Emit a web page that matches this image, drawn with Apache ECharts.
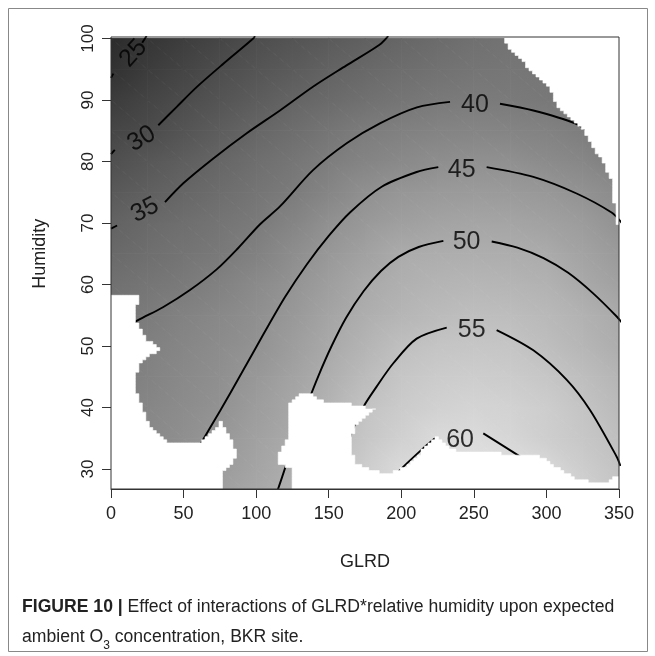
<!DOCTYPE html>
<html><head><meta charset="utf-8">
<script src="https://cdn.jsdelivr.net/npm/echarts@6/dist/echarts.min.js"></script>
<style>html,body{margin:0;padding:0;background:#fff}#c{width:655px;height:656px}</style>
</head><body><div id="c"></div>
<script>
// ---------- data ----------
const glrdSteps = [0,25,50,75,100,125,150,175,200,225,250,275,300,325,350];
const humiditySteps = [100,95,90,85,80,75,70,65,60,55,50,45,40,35,30,25];
// expected O3 at each (humidity row, GLRD column)
const o3Surface = [
  [23.0,25.1,26.8,28.5,30.1,31.5,32.9,34.2,35.4,36.6,37.6,38.2,38.4,38.2,37.8],
  [24.3,26.5,28.3,30.1,31.7,33.1,34.7,35.9,37.0,37.9,38.6,38.9,38.8,38.5,38.0],
  [26.6,28.3,30.0,31.7,33.4,35.1,36.4,37.6,38.6,39.5,39.9,39.8,39.4,38.8,38.0],
  [28.6,29.7,31.7,33.6,35.4,37.0,38.6,40.2,41.1,41.7,42.0,41.9,41.4,40.4,39.2],
  [30.6,32.3,33.9,35.6,37.2,38.7,40.3,41.8,43.0,43.9,44.5,44.5,43.4,42.4,40.5],
  [32.7,34.1,35.5,37.0,38.5,40.0,42.1,44.3,45.7,46.4,46.7,46.6,46.0,44.8,43.3],
  [34.7,36.1,37.3,38.5,39.7,41.8,44.4,46.2,47.6,48.5,48.9,48.8,48.1,46.9,44.9],
  [36.2,37.3,38.4,39.5,41.2,43.7,46.0,48.1,50.1,50.5,50.7,50.6,50.1,48.4,46.6],
  [37.7,38.7,39.7,41.3,43.2,45.1,47.4,49.7,51.1,52.0,52.4,52.2,51.5,49.8,48.0],
  [38.6,40.0,41.4,42.8,44.2,46.1,48.6,50.7,52.3,53.5,54.2,54.0,53.0,51.5,49.9],
  [39.5,41.0,42.2,43.6,44.9,47.2,49.6,52.0,54.4,55.5,55.8,55.6,54.2,52.5,50.6],
  [40.1,41.5,42.9,44.2,46.0,48.3,50.8,53.6,55.8,56.9,57.3,57.0,55.9,54.2,52.2],
  [40.8,42.2,43.5,44.9,47.0,49.2,52.0,55.1,56.9,58.1,58.7,58.4,57.3,55.4,53.4],
  [41.5,42.8,44.2,45.9,47.9,49.9,53.0,55.8,58.0,60.1,60.3,59.2,57.6,56.0,54.4],
  [41.8,43.3,45.0,46.8,48.6,50.7,54.3,57.2,60.0,61.0,61.5,61.1,59.8,57.4,55.2],
  [42.1,43.7,45.6,47.9,49.6,51.7,55.4,58.3,61.2,62.3,62.6,62.3,61.1,58.6,56.0]
];
const xTickValues = [0,50,100,150,200,250,300,350];
const yTickValues = [30,40,50,60,70,80,90,100];
const humidityRange = [26.75, 100.25];

// contour lines: each an array of segments (gaps where the labels sit)
const contour25 = [[[0,93.6],[1.6,94.3]], [[21.5,99.3],[24.5,100.4]]];
const contour30 = [[[0,81.2],[2.6,81.9]], [[32.6,85.9],[45.3,88.9],[59,92.1],[77.4,95.9],[98,100],[99.2,100.4]]];
const contour35 = [[[0,69.1],[4.2,69.6]], [[37.2,73.4],[50,76.5],[70.5,80.5],[93.5,84.6],[116.4,88.3],[139.4,92.2],[162,95.6],[185,99.0],[191,100.4]]];
const contour40 = [[[12,53.2],[18.6,54.2],[35.8,56.3],[54.4,59.1],[73,62.5],[87.5,65.9],[102.7,69.8],[116.4,72.7],[139.2,78.6],[162.6,83],[185.3,86.2],[210.8,88.8],[233.6,89.7]],
                   [[268,89.4],[291,88.3],[319.7,86.2],[332,84.3]]];
const contour45 = [[[57,32.2],[62.5,34.4],[75,39.4],[90,45.6],[105,51.9],[120,58],[135,63.3],[150,67.9],[165,71.8],[186.5,75.9],[210.6,78.3],[225.5,79.1]],
                   [[258.8,79.1],[291,77.5],[320.8,74.8],[344.9,71.7],[352,70]]];
const contour50 = [[[112,25],[115.3,26.9],[121,30.9],[128,35.8],[135,40.4],[143,45.2],[152,50],[162,54.6],[174,58.9],[186,62.2],[198,64.5],[212,66.1],[229,67.1]],
                   [[262.3,67],[280,66],[298,64.3],[315,61.9],[332,58.6],[348.4,54.8],[353,53.5]]];
const contour55 = [[[160,31],[165.8,35.9],[173.9,40.1],[183,43.4],[194.5,47.2],[210.6,51.2],[231.3,53]],
                   [[265.7,52.6],[291,49.3],[314,44.5],[330,39.6],[348.4,32],[351,30.5]]];
const contour60 = [[[195,28.5],[199,29.8],[215.2,33.4],[223.2,35]],
                   [[256.5,35.8],[284,31.7],[290,30.7]]];
const contourSets = [contour25, contour30, contour35, contour40, contour45, contour50, contour55, contour60];

const contourLabelLevels = [25,30,35,40,45,50,55,60];
const contourLabelGlrd   = [15.4,21.1,23.4,250.8,241.6,245,248.5,240.5];
const contourLabelHum    = [97.6,83.7,72.1,89.2,78.6,66.9,52.6,34.7];
const contourLabelAngle  = [48,31,27,0,0,0,0,0];

// regions with no data (left blank)
const maskTopRight = [[268.5,100.6],[271,99.5],[275,98.1],[282,96.5],[288.7,94.8],[295,93.5],[302.5,91.6],[308,88.6],[314,87.5],[320.8,86.2],[326,84.6],[332,82.4],[338,80.2],[344,77.5],[346,74.8],[347.5,72],[348.4,69.7],[351,69.7],[351,100.6]];
const maskLeft = [[-1,58.2],[20,58.2],[20,57.2],[17.5,56.5],[17.5,54],[20,53],[24.6,51],[33.8,49.3],[24.6,48.2],[20,47.2],[16.5,45],[16.5,42.8],[21,40.1],[28,36.3],[38.4,34.4],[61.3,34.3],[69,35.8],[75,37.7],[79,36.5],[83,34.5],[86.6,32.5],[84,31],[79,30],[76.3,29.5],[76.3,26.5],[-1,26.5]];
const maskBottom = [[125.3,26.5],[125.3,30.4],[116,30.6],[115.5,32.8],[120,34],[122,35.5],[122,40.7],[128,41.8],[134.8,42.5],[139.4,41.7],[147,40.9],[160,40.7],[170,40.2],[181.9,39.7],[176,38.8],[170,37.5],[166,35.5],[164.7,33.1],[169,30.9],[178.4,29.8],[187.6,29.3],[199,29.8],[210,32],[217.5,34.2],[224.4,35.3],[233.6,33.1],[256.5,32.6],[293.3,32.3],[302.5,30.9],[320.8,28.2],[339.2,27.7],[348.4,28.8],[351,28.8],[351,26.5]];
const masks = [maskTopRight, maskLeft, maskBottom];

// ---------- rendering ----------
const FONT = '"Liberation Sans", Arial, Helvetica, sans-serif';
function grayOf(v) {
  const g = Math.round(Math.max(0, Math.min(255, 43 + (v - 23) * 4.72)));
  return 'rgb(' + g + ',' + g + ',' + g + ')';
}
function shadedTriangle(p, v) {
  const x1 = p[0][0], y1 = p[0][1], x2 = p[1][0], y2 = p[1][1], x3 = p[2][0], y3 = p[2][1];
  const det = (x2 - x1) * (y3 - y1) - (x3 - x1) * (y2 - y1);
  const d2 = v[1] - v[0], d3 = v[2] - v[0];
  const vmin = Math.min(v[0], v[1], v[2]), vmax = Math.max(v[0], v[1], v[2]);
  let fill;
  if (Math.abs(det) < 1e-9 || vmax - vmin < 1e-6) {
    fill = grayOf(v[0]);
  } else {
    const a = (d2 * (y3 - y1) - d3 * (y2 - y1)) / det;
    const b = ((x2 - x1) * d3 - (x3 - x1) * d2) / det;
    const n2 = a * a + b * b;
    fill = new echarts.graphic.LinearGradient(
      x1 + a * (vmin - v[0]) / n2, y1 + b * (vmin - v[0]) / n2,
      x1 + a * (vmax - v[0]) / n2, y1 + b * (vmax - v[0]) / n2,
      [{offset: 0, color: grayOf(vmin)}, {offset: 1, color: grayOf(vmax)}], true);
  }
  return {type: 'polygon', shape: {points: p}, style: {fill: fill, stroke: fill, lineWidth: 0.9}};
}
// pixelated outline, like the raster cells of the original image
function staircase(pts, cw, ch, ox, oy) {
  const out = [];
  const snap = function (v, o, c) { return o + Math.round((v - o) / c) * c; };
  let prev = null;
  for (let i = 0; i < pts.length; i++) {
    const a = pts[i], b = pts[(i + 1) % pts.length];
    const n = Math.max(1, Math.ceil(Math.max(Math.abs(b[0] - a[0]) / cw, Math.abs(b[1] - a[1]) / ch) * 2));
    for (let k = 0; k <= n; k++) {
      const x = snap(a[0] + (b[0] - a[0]) * k / n, ox, cw);
      const y = snap(a[1] + (b[1] - a[1]) * k / n, oy, ch);
      if (prev && prev[0] !== x && prev[1] !== y) out.push([x, prev[1]]);
      if (!prev || prev[0] !== x || prev[1] !== y) out.push([x, y]);
      prev = [x, y];
    }
  }
  return out;
}

const cellData = [];
for (let r = 0; r < humiditySteps.length - 1; r++) {
  for (let c = 0; c < glrdSteps.length - 1; c++) {
    cellData.push([glrdSteps[c], humiditySteps[r + 1], glrdSteps[c + 1], humiditySteps[r], c, r]);
  }
}

const series = [];
series.push({
  type: 'custom', name: 'surface', xAxisIndex: 0, yAxisIndex: 0, z: 1, clip: true, silent: true,
  data: cellData, encode: {x: [0, 2], y: [1, 3]},
  renderItem: function (params, api) {
    const c = api.value(4), r = api.value(5);
    const pTL = api.coord([glrdSteps[c], humiditySteps[r]]);
    const pTR = api.coord([glrdSteps[c + 1], humiditySteps[r]]);
    const pBL = api.coord([glrdSteps[c], humiditySteps[r + 1]]);
    const pBR = api.coord([glrdSteps[c + 1], humiditySteps[r + 1]]);
    const vTL = o3Surface[r][c], vTR = o3Surface[r][c + 1], vBL = o3Surface[r + 1][c], vBR = o3Surface[r + 1][c + 1];
    return {type: 'group', children: [
      shadedTriangle([pTL, pTR, pBR], [vTL, vTR, vBR]),
      shadedTriangle([pTL, pBR, pBL], [vTL, vBR, vBL])
    ]};
  }
});

contourSets.forEach(function (segs) {
  segs.forEach(function (seg) {
    series.push({
      type: 'line', xAxisIndex: 0, yAxisIndex: 0, z: 2, data: seg, symbol: 'none',
      smooth: 0.3, silent: true, clip: true,
      lineStyle: {color: '#000', width: 1.9}
    });
  });
});

series.push({
  type: 'custom', name: 'nodata', xAxisIndex: 0, yAxisIndex: 0, z: 3, clip: true, silent: true,
  data: masks.map(function (m, i) { return [m[0][0], m[0][1], i]; }),
  encode: {x: 0, y: 1},
  renderItem: function (params, api) {
    const pts = masks[api.value(2)].map(function (p) { return api.coord(p); });
    const origin = api.coord([0, humidityRange[0]]);
    const cellW = api.size([2.4, 0])[0], cellH = api.size([0, 0.5])[1];
    return {type: 'polygon', shape: {points: staircase(pts, cellW, cellH, origin[0], origin[1])},
            style: {fill: '#fff', stroke: '#fff', lineWidth: 0.6}};
  }
});

series.push({
  type: 'scatter', xAxisIndex: 0, yAxisIndex: 0, z: 4, silent: true,
  symbol: 'circle', symbolSize: 0.1, itemStyle: {color: 'rgba(0,0,0,0)'},
  data: contourLabelLevels.map(function (lv, i) {
    return {value: [contourLabelGlrd[i], contourLabelHum[i], lv],
            label: {rotate: contourLabelAngle[i]}};
  }),
  label: {show: true, position: 'inside', formatter: function (p) { return String(p.value[2]); },
          fontSize: 25, color: '#000', textBorderWidth: 0, fontFamily: FONT}
});

const chart = echarts.init(document.getElementById('c'), null, {renderer: 'canvas'});
chart.setOption({
  animation: false,
  backgroundColor: '#fff',
  grid: [
    {left: 111, right: 36, top: 37, bottom: 167, show: true, borderColor: '#333', borderWidth: 1,
     backgroundColor: 'transparent', z: 10, outerBoundsMode: 'none', containLabel: false},
    {left: 111, right: 36, top: 38.5, bottom: 187, show: false, outerBoundsMode: 'none', containLabel: false}
  ],
  xAxis: [
    {type: 'value', gridIndex: 0, min: xTickValues[0], max: xTickValues[xTickValues.length - 1], interval: 50, z: 10,
     axisLine: {show: true, onZero: false, lineStyle: {color: '#333', width: 1}},
     axisTick: {show: true, inside: false, length: 9, lineStyle: {color: '#333'}},
     axisLabel: {fontSize: 18, color: '#222', margin: 16, fontFamily: FONT},
     splitLine: {show: false},
     name: 'GLRD', nameLocation: 'middle', nameGap: 64,
     nameTextStyle: {fontSize: 18, color: '#222', fontFamily: FONT}},
    {type: 'value', gridIndex: 1, min: 0, max: 350, show: false}
  ],
  yAxis: [
    {type: 'value', gridIndex: 0, min: humidityRange[0], max: humidityRange[1], show: false},
    {type: 'value', gridIndex: 1, min: yTickValues[0], max: yTickValues[yTickValues.length - 1], interval: 10, z: 10,
     axisLine: {show: false},
     axisTick: {show: true, inside: false, length: 9, lineStyle: {color: '#333'}},
     axisLabel: {fontSize: 17, color: '#222', margin: 14, rotate: 90, fontFamily: FONT},
     splitLine: {show: false},
     name: 'Humidity', nameLocation: 'middle', nameGap: 62, nameRotate: 90,
     nameTextStyle: {fontSize: 18, color: '#222', fontFamily: FONT}}
  ],
  graphic: [
    {type: 'rect', silent: true, shape: {x: 8.5, y: 8.5, width: 639, height: 643},
     style: {fill: 'none', stroke: '#888', lineWidth: 1}},
    {type: 'text', silent: true, left: 22, top: 592,
     style: {
       text: '{b|FIGURE 10 |} Effect of interactions of GLRD*relative humidity upon expected\nambient O{s|3} concentration, BKR site.',
       fontSize: 17.6, lineHeight: 30, fill: '#222', fontFamily: FONT,
       rich: {
         b: {fontWeight: 'bold', fontSize: 17.6, lineHeight: 30, fontFamily: FONT, fill: '#222'},
         s: {fontSize: 12, lineHeight: 20, verticalAlign: 'bottom', fontFamily: FONT, fill: '#222'}
       }
     }}
  ],
  series: series
});
</script>
</body></html>
